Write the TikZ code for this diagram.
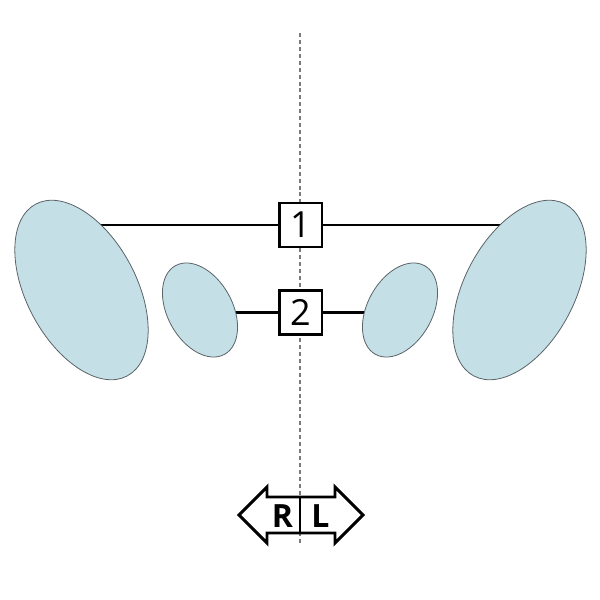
\documentclass[tikz,border=0pt]{standalone}
\usepackage{fontspec}
\setmainfont{Open Sans}
\usepackage{tikz}
\usetikzlibrary{positioning, backgrounds, shapes.geometric}
\definecolor{lobefill}{HTML}{C5DFE6}
\definecolor{lobeline}{HTML}{5A6468}
\definecolor{axisgray}{HTML}{7A7A7A}
\tikzset{
  lobe/.style={ellipse, draw=lobeline, line width=0.6pt, fill=lobefill, inner sep=0pt},
  biglobe/.style={lobe, minimum width=82.5pt, minimum height=146pt},
  smalllobe/.style={lobe, minimum width=48.75pt, minimum height=76pt},
  numbox/.style={draw=black, line width=2pt, fill=white, minimum width=32pt,
                 minimum height=33pt, inner sep=0pt, font=\fontsize{27}{27}\selectfont},
  link/.style={draw=black, line width=2.2pt},
  midline/.style={draw=axisgray, line width=0.9pt, dash pattern=on 3pt off 2.2pt},
  sidelbl/.style={inner sep=0pt, font=\fontsize{24}{24}\selectfont\bfseries},
  sidearrow/.style={draw=black, line width=2.2pt, fill=white, line join=miter},
}

\begin{document}
\begin{tikzpicture}[x=0.75pt, y=-0.75pt]
  \useasboundingbox (0,0) rectangle (600,600);

  % lobes
  \node[biglobe, rotate=28] (bigL) at (81.5,290) {};
  \node[smalllobe, rotate=29] (smallL) at (200,310) {};
  \node[smalllobe, rotate=-29] (smallR) at (400,310) {};
  \node[biglobe, rotate=-28] (bigR) at (519.5,290) {};

  % numbered pairs
  \node[numbox] (one) at (300.5,225) {1};
  \node[numbox] (two) at (300.5,312.5) {2};

  % side marker
  \coordinate (dirc) at (300,515);
  \draw[sidearrow] (239,515) -- (267,487) -- (267,497) -- (335,497) -- (335,487)
    -- (363,515) -- (335,543) -- (335,533) -- (267,533) -- (267,543) -- cycle;
  \coordinate (divtop) at (300,497);
  \coordinate (divbot) at (300,533);
  \draw[black, line width=2.2pt] (divtop) -- (divbot);
  \node[sidelbl] (rside) at (282.5,516) {R};
  \node[sidelbl] (lside) at (320.5,516) {L};

  \coordinate (axtop) at (300,33);
  \coordinate (axbot) at (300,545);

  \begin{scope}[on background layer]
    \draw[midline] (axtop) -- (axbot);
    \draw[link] (bigL.center |- one.center) -- (bigR.center |- one.center);
    \draw[link] (smallL.center |- two.center) -- (smallR.center |- two.center);
  \end{scope}
\end{tikzpicture}
\end{document}
